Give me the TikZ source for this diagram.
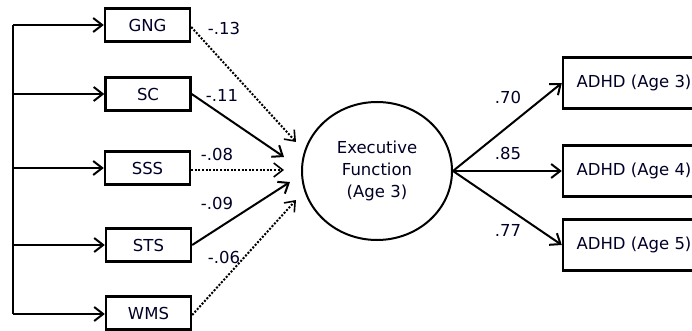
\documentclass[tikz,border=0pt]{standalone}
\usepackage{fontspec}
\setmainfont{DejaVu Sans}
\usetikzlibrary{arrows.meta,shapes.geometric}
\begin{document}
\begin{tikzpicture}[x=1pt,y=-1pt,
  every node/.style={font=\fontsize{16.5}{22}\selectfont, text=black!85!blue},
  obs/.style={draw=black, line width=2.4pt, minimum width=85pt, minimum height=33pt, inner sep=0pt},
  outbox/.style={draw=black, line width=2.4pt, minimum width=142pt, minimum height=51pt, inner sep=0pt},
  latent/.style={draw=black, ellipse, line width=2pt, minimum width=150pt, minimum height=138pt, align=center, inner sep=0pt},
  arr/.style={line width=2pt, -{Straight Barb[length=9pt,width=14pt,line width=2pt]}},
  dotarr/.style={line width=2pt, dash pattern=on 2pt off 1.6pt, -{Straight Barb[length=9pt,width=14pt,line width=1.6pt]}},
  lab/.style={inner sep=0pt, font=\fontsize{16.5}{18}\selectfont}
]
\useasboundingbox (0,0) rectangle (692,331);
% observed boxes
\node[obs] (gng) at (147.5,25) {GNG};
\node[obs] (sc)  at (148,94) {SC};
\node[obs] (sss) at (147.5,168) {SSS};
\node[obs] (sts) at (148.5,245) {STS};
\node[obs] (wms) at (148.5,313) {WMS};
% latent
\node[latent] (ef) at (377,171) {Executive\\Function\\(Age 3)};
% outcomes
\node[outbox] (a3) at (634,83) {ADHD (Age 3)};
\node[outbox] (a4) at (634,171) {ADHD (Age 4)};
\node[outbox] (a5) at (634,245) {ADHD (Age 5)};
% left bracket
\coordinate (v1) at (13,25);
\coordinate (v2) at (13,94);
\coordinate (v3) at (13,168);
\coordinate (v4) at (13,245);
\coordinate (v5) at (13,314);
\draw[line width=2.4pt] (v1) -- (v5);
\foreach \i/\b in {1/gng,2/sc,3/sss,4/sts,5/wms}
  \draw[arr] (v\i) -- (v\i -| \b.west);
% tips into the latent
\coordinate (t1) at (296,142);
\coordinate (t2) at (284,157);
\coordinate (t3) at (284,170);
\coordinate (t4) at (290,182);
\coordinate (t5) at (296,200);
\draw[dotarr] (gng.east) ++(0,2) -- (t1);
\draw[arr] (sc.east) -- (t2);
\draw[dotarr] (sss.east) ++(0,2) -- (t3);
\draw[arr] (sts.east) -- (t4);
\draw[dotarr] (wms.east) ++(0,2) -- (t5);
% labels
\node[lab] at (224,28) {-.13};
\node[lab] at (222,95) {-.11};
\node[lab] at (217,154) {-.08};
\node[lab] at (217,203) {-.09};
\node[lab] at (224,257) {-.06};
% outgoing
\draw[arr] (ef.east) -- (a3.west);
\draw[arr] (ef.east) -- (a4.west);
\draw[arr] (ef.east) -- (a5.west);
\node[lab] at (508,97) {.70};
\node[lab] at (508,153) {.85};
\node[lab] at (508,230) {.77};
\end{tikzpicture}
\end{document}
